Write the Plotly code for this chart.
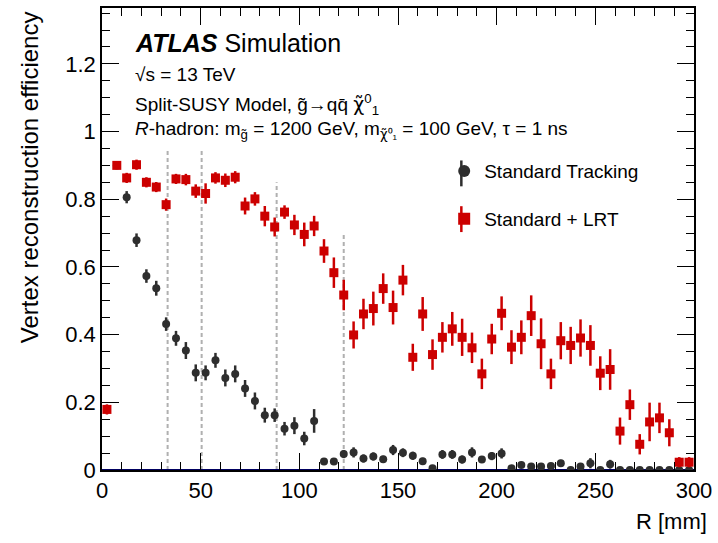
import plotly.graph_objects as go

# ---------------- data ----------------
r_centers = [2.5, 7.5, 12.5, 17.5, 22.5, 27.5, 32.5, 37.5, 42.5, 47.5,
             52.5, 57.5, 62.5, 67.5, 72.5, 77.5, 82.5, 87.5, 92.5, 97.5,
             102.5, 107.5, 112.5, 117.5, 122.5, 127.5, 132.5, 137.5, 142.5, 147.5,
             152.5, 157.5, 162.5, 167.5, 172.5, 177.5, 182.5, 187.5, 192.5, 197.5,
             202.5, 207.5, 212.5, 217.5, 222.5, 227.5, 232.5, 237.5, 242.5, 247.5,
             252.5, 257.5, 262.5, 267.5, 272.5, 277.5, 282.5, 287.5, 292.5, 297.5]

eff_lrt = [0.179, 0.900, 0.863, 0.902, 0.850, 0.836, 0.784, 0.860, 0.858, 0.824,
           0.817, 0.863, 0.856, 0.865, 0.780, 0.801, 0.750, 0.718, 0.762, 0.724,
           0.696, 0.721, 0.647, 0.583, 0.517, 0.399, 0.461, 0.477, 0.536, 0.480,
           0.561, 0.333, 0.461, 0.341, 0.392, 0.417, 0.392, 0.361, 0.284, 0.387,
           0.463, 0.363, 0.392, 0.456, 0.373, 0.284, 0.382, 0.368, 0.390, 0.368,
           0.286, 0.297, 0.115, 0.193, 0.076, 0.142, 0.154, 0.110, 0.023, 0.023]
err_lrt = [0.015, 0.010, 0.015, 0.015, 0.015, 0.015, 0.018, 0.015, 0.017, 0.020,
           0.030, 0.017, 0.020, 0.018, 0.025, 0.020, 0.030, 0.028, 0.020, 0.030,
           0.035, 0.030, 0.035, 0.045, 0.045, 0.040, 0.045, 0.050, 0.045, 0.050,
           0.045, 0.040, 0.050, 0.045, 0.045, 0.050, 0.055, 0.045, 0.045, 0.045,
           0.050, 0.050, 0.050, 0.060, 0.075, 0.045, 0.055, 0.055, 0.055, 0.060,
           0.050, 0.060, 0.040, 0.045, 0.030, 0.057, 0.045, 0.040, 0.015, 0.015]

eff_std = [0.179, 0.900, 0.806, 0.679, 0.573, 0.537, 0.431, 0.389, 0.353, 0.287,
           0.287, 0.324, 0.272, 0.284, 0.241, 0.204, 0.162, 0.162, 0.122, 0.131,
           0.093, 0.145, 0.025, 0.025, 0.047, 0.052, 0.034, 0.040, 0.032, 0.059,
           0.051, 0.042, 0.026, 0.005, 0.046, 0.046, 0.031, 0.052, 0.031, 0.041,
           0.049, 0.005, 0.015, 0.010, 0.010, 0.012, 0.020, 0.000, 0.010, 0.020,
           0.000, 0.017, 0.000, 0.000, 0.000, 0.000, 0.000, 0.000, 0.000, 0.000]
err_std = [0.010, 0.008, 0.018, 0.020, 0.020, 0.022, 0.020, 0.022, 0.025, 0.025,
           0.022, 0.022, 0.025, 0.025, 0.025, 0.025, 0.022, 0.020, 0.020, 0.025,
           0.020, 0.035, 0.006, 0.006, 0.012, 0.015, 0.012, 0.012, 0.010, 0.015,
           0.013, 0.012, 0.010, 0.005, 0.013, 0.013, 0.012, 0.015, 0.010, 0.012,
           0.015, 0.004, 0.008, 0.006, 0.006, 0.008, 0.010, 0.002, 0.008, 0.015,
           0.002, 0.013, 0.002, 0.002, 0.002, 0.002, 0.002, 0.002, 0.002, 0.002]

layer_r = [33.25, 50.5, 88.5, 122.5]
layer_top = [0.95, 0.95, 0.85, 0.70]

series_names = ["Standard Tracking", "Standard + LRT"]

FONT = "Liberation Sans, Arial, Helvetica, sans-serif"
BLACK = "#2e2e2e"
RED = "#cc0000"

CHI = '<span style="font-family:DejaVu Sans">χ̃</span>'

fig = go.Figure()

fig.add_trace(go.Scatter(
    x=r_centers, y=eff_std, mode="markers", name=series_names[0],
    marker=dict(symbol="circle", size=8, color=BLACK),
    error_y=dict(type="data", array=err_std, color=BLACK, thickness=2.5, width=0),
    legendgroup="a",
))
fig.add_trace(go.Scatter(
    x=r_centers, y=eff_lrt, mode="markers", name=series_names[1],
    marker=dict(symbol="square", size=9, color=RED),
    error_y=dict(type="data", array=err_lrt, color=RED, thickness=2.5, width=0),
    legendgroup="b",
))

shapes = []
for r, top in zip(layer_r, layer_top):
    shapes.append(dict(type="line", xref="x", yref="y", x0=r, x1=r, y0=0, y1=top,
                       line=dict(color="#b0b0b0", width=2, dash="4px,3px"), layer="below"))
shapes.append(dict(type="line", xref="x", yref="y", x0=0, x1=300, y0=0, y1=0,
                   line=dict(color="#000060", width=2), layer="below"))

# legend error-bar strokes (decoration behind legend symbols)
LEG_X = 0.607
for yc, col in [(0.642, BLACK), (0.543, RED)]:
    shapes.append(dict(type="line", xref="paper", yref="paper", x0=LEG_X, x1=LEG_X,
                       y0=yc - 0.028, y1=yc + 0.028, line=dict(color=col, width=2.5)))

annotations = [
    dict(text="<b><i>ATLAS</i></b> Simulation", x=0.052, y=0.925, xref="paper", yref="paper",
         xanchor="left", yanchor="middle", showarrow=False, font=dict(size=25, color="black", family=FONT)),
    dict(text="√s = 13 TeV", x=0.052, y=0.856, xref="paper", yref="paper",
         xanchor="left", yanchor="middle", showarrow=False, font=dict(size=19, color="black", family=FONT)),
    dict(text="Split-SUSY Model, g̃→qq̄ " + CHI + "<sup>0</sup><sub>1</sub>", x=0.052, y=0.791,
         xref="paper", yref="paper",
         xanchor="left", yanchor="middle", showarrow=False, font=dict(size=19, color="black", family=FONT)),
    dict(text="<i>R</i>-hadron: m<sub>g̃</sub> = 1200 GeV, m<sub>" + CHI + "⁰₁</sub> = 100 GeV, τ = 1 ns",
         x=0.052, y=0.737, xref="paper", yref="paper",
         xanchor="left", yanchor="middle", showarrow=False, font=dict(size=19, color="black", family=FONT)),
    dict(text="Vertex reconstruction efficiency", textangle=-90, x=-0.121, y=0.998,
         xref="paper", yref="paper", xanchor="center", yanchor="top", showarrow=False,
         font=dict(size=24, color="black", family=FONT)),
    dict(text="R [mm]", x=1.025, y=-0.112, xref="paper", yref="paper", xanchor="right",
         yanchor="middle", showarrow=False, font=dict(size=22, color="black", family=FONT)),
]

axis_common = dict(
    showline=True, linecolor="black", linewidth=1.5, mirror="allticks",
    ticks="inside", ticklen=17, tickwidth=1.2, tickcolor="black",
    showgrid=False, zeroline=False,
    tickfont=dict(size=22, color="black", family=FONT),
)

fig.update_layout(
    width=718, height=543,
    margin=dict(l=102, r=21, t=6, b=73),
    paper_bgcolor="white", plot_bgcolor="white",
    font=dict(family=FONT, color="black"),
    xaxis=dict(range=[0, 300], dtick=50, tick0=0,
               minor=dict(ticks="inside", ticklen=8, dtick=10, tickcolor="black", tickwidth=1.2, showgrid=False),
               **axis_common),
    yaxis=dict(range=[0, 1.365], dtick=0.2, tick0=0,
               minor=dict(ticks="inside", ticklen=8, dtick=0.05, tickcolor="black", tickwidth=1.2, showgrid=False),
               **axis_common),
    showlegend=True,
    legend=dict(x=0.578, y=0.595, xanchor="left", yanchor="middle", bgcolor="rgba(0,0,0,0)",
                font=dict(size=19, color="black", family=FONT), traceorder="grouped",
                tracegroupgap=20, itemsizing="constant"),
    shapes=shapes,
    annotations=annotations,
)

fig.write_html("out.html")
